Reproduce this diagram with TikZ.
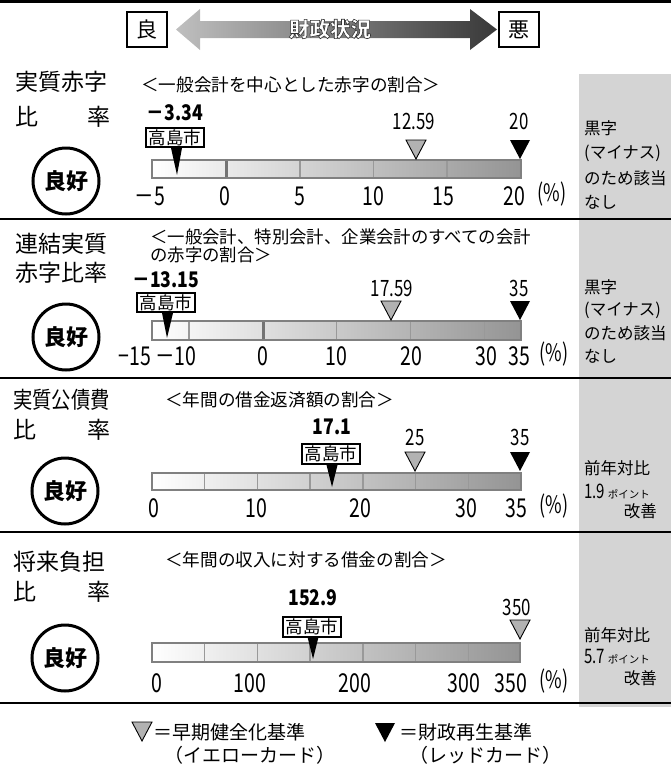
\documentclass[tikz,border=0pt]{standalone}
\usepackage{fontspec}
\usepackage{graphicx}
\setmainfont{Noto Sans CJK JP}
\newfontfamily\condf[FakeStretch=0.82]{Noto Sans CJK JP}
\newfontfamily\numf[FakeStretch=0.75]{Noto Sans CJK JP}
\newcommand\fsz[1]{\fontsize{#1}{#1}\selectfont}
\definecolor{panelgray}{HTML}{D4D4D4}
\tikzset{
  sepline/.style={line width=2.5pt,black},
  barframe/.style={draw=black!50,line width=2.5pt},
  divline/.style={draw=black!40,line width=1.3pt},
  zeroline/.style={draw=black!55,line width=3pt},
  title/.style={anchor=west,font=\fsz{23},inner sep=0pt},
  subt/.style={anchor=west,font=\fsz{17.6},inner sep=0pt},
  ticklab/.style={font=\numf\fsz{26},inner sep=0pt},
  pct/.style={font=\numf\fsz{24},inner sep=0pt},
  thr/.style={font=\numf\fsz{22.5},inner sep=0pt},
  val/.style={font=\condf\bfseries\fsz{21.5},inner sep=0pt},
  citybox/.style={draw,line width=1.8pt,fill=white,font=\fsz{17.5},inner xsep=2.5pt,inner ysep=1.5pt},
  panel/.style={anchor=west,font=\fsz{16.5},inner sep=0pt},
  good/.style={circle,draw,line width=3pt,minimum size=66pt,font=\bfseries\fsz{22},inner sep=0pt},
  legend/.style={anchor=west,font=\fsz{19},inner sep=0pt},
  hdrbox/.style={draw,line width=1.2pt,minimum width=40pt,minimum height=35pt,inner sep=0pt,font=\fsz{21}},
  ytri/.pic={\draw[line width=0.9pt,fill=black!30] (-10,0)--(10,0)--(0,19)--cycle;},
  btri/.pic={\fill[black] (-10,0)--(10,0)--(0,19)--cycle;}
}
\newcommand\outlined[1]{\special{pdf:bcolor [1 1 1] [0.2 0.2 0.2]}\special{pdf:literal direct 2 Tr 0.6 w}#1\special{pdf:literal direct 0 Tr 0.4 w}\special{pdf:ecolor}}
\begin{document}
\begin{tikzpicture}[x=1pt,y=-1pt]
\useasboundingbox (0,0) rectangle (671,766);
% gray panel
\fill[panelgray] (579,74) rectangle (671,707);
% lines
\draw[line width=3pt] (0,1.5) -- (671,1.5);
\draw[sepline] (0,219) -- (671,219);
\draw[sepline] (0,378) -- (671,378);
\draw[sepline] (0,532) -- (671,532);
\draw[sepline] (0,703) -- (671,703);
% header
\shade[left color=black!25,right color=black!78]
  (176,29.5) -- (200,9) -- (200,21) -- (470,21) -- (470,9) -- (497,29.5)
  -- (470,50) -- (470,38) -- (200,38) -- (200,50) -- cycle;
\node[font=\bfseries\fsz{20.5}] (zaisei) at (330,29) {\outlined{財政状況}};
\node[hdrbox] (good) at (147,29.5) {良};
\node[hdrbox] (bad) at (519,29.5) {悪};

% ---------- section 1
\node[title] (t1a) at (15,82) {実質赤字};
\node[title] (t1b) at (15,117) {\makebox[95pt]{比\hfill 率}};
\node[subt] (s1) at (141,85) {＜一般会計を中心とした赤字の割合＞};
\node[good] (g1) at (66,181) {良好};
\shade[left color=white,right color=black!42] (152,160) rectangle (521,178);
\foreach \x in {300,373.5,447} \draw[divline] (\x,160) -- (\x,178);
\draw[zeroline] (226,160) -- (226,178);
\draw[barframe] (152,160) rectangle (521,178);
\pic at (416,140) {ytri};
\pic at (520,140) {btri};
\node[thr] (n1a) at (414,121) {12.59};
\node[thr] (n1b) at (519,121) {20};
\node[val] (v1) at (175,113) {－3.34};
\fill (171,148) -- (182,148) -- (177,175) -- cycle;
\node[citybox] (c1) at (175,137.5) {高島市};
\node[ticklab] (k1a) at (150,196) {－5};
\node[ticklab] (k1b) at (225,196) {0};
\node[ticklab] (k1c) at (300,196) {5};
\node[ticklab] (k1d) at (373,196) {10};
\node[ticklab] (k1e) at (443,196) {15};
\node[ticklab] (k1f) at (514,196) {20};
\node[pct] (k1g) at (552,194) {(\%)};
\node[panel] (p1a) at (584,128) {黒字};
\node[panel] (p1b) at (584,153) {(マイナス)};
\node[panel] (p1c) at (584,178) {のため該当};
\node[panel] (p1d) at (584,202) {なし};

% ---------- section 2
\node[title] (t2a) at (15,244) {連結実質};
\node[title] (t2b) at (15,273) {赤字比率};
\node[subt,font=\fsz{17.4}] (s2a) at (150,237) {＜一般会計、特別会計、企業会計のすべての会計};
\node[subt,font=\fsz{17.4}] (s2b) at (150,255) {の赤字の割合＞};
\node[good] (g2) at (66,337) {良好};
\shade[left color=white,right color=black!42] (152,321) rectangle (521,340);
\foreach \x in {189,336.5,410.5,484.5} \draw[divline] (\x,321) -- (\x,340);
\draw[zeroline] (263,321) -- (263,340);
\draw[barframe] (152,321) rectangle (521,340);
\pic at (391,301) {ytri};
\pic at (520,301) {btri};
\node[thr] (n2a) at (392,288) {17.59};
\node[thr] (n2b) at (519,288) {35};
\node[val] (v2) at (166,280) {－13.15};
\fill (162,313) -- (173,313) -- (167,338) -- cycle;
\node[citybox] (c2) at (166,302.5) {高島市};
\node[ticklab] (k2a) at (135,356) {−15};
\node[ticklab] (k2b) at (176,356) {－10};
\node[ticklab] (k2c) at (263,356) {0};
\node[ticklab] (k2d) at (336,356) {10};
\node[ticklab] (k2e) at (411,356) {20};
\node[ticklab] (k2f) at (486,356) {30};
\node[ticklab] (k2g) at (519,356) {35};
\node[pct] (k2h) at (554,354) {(\%)};
\node[panel] (p2a) at (584,287) {黒字};
\node[panel] (p2b) at (584,310) {(マイナス)};
\node[panel] (p2c) at (584,333) {のため該当};
\node[panel] (p2d) at (584,356) {なし};

% ---------- section 3
\node[title] (t3a) at (13,400) {\scalebox{0.84}[1]{実質公債費}};
\node[title] (t3b) at (13,430) {\makebox[97pt]{比\hfill 率}};
\node[subt] (s3) at (165,400) {＜年間の借金返済額の割合＞};
\node[good] (g3) at (65,491) {良好};
\shade[left color=white,right color=black!42] (152,473) rectangle (521,490);
\foreach \x in {204.7,257.4,310.1,362.9,415.6,468.3} \draw[divline] (\x,473) -- (\x,490);
\draw[barframe] (152,473) rectangle (521,490);
\pic at (415,452) {ytri};
\pic at (520,452) {btri};
\node[thr] (n3a) at (415,437) {25};
\node[thr] (n3b) at (520,437) {35};
\node[val] (v3) at (332,427) {17.1};
\fill (326.5,465) -- (337.5,465) -- (332,487) -- cycle;
\node[citybox] (c3) at (331,454) {高島市};
\node[ticklab] (k3a) at (154,508) {0};
\node[ticklab] (k3b) at (256,508) {10};
\node[ticklab] (k3c) at (360,508) {20};
\node[ticklab] (k3d) at (466,508) {30};
\node[ticklab] (k3e) at (516,508) {35};
\node[pct] (k3f) at (554,506) {(\%)};
\node[panel] (p3a) at (584,468) {前年対比};
\node[panel] (p3b) at (584,491) {{\numf\fsz{20}1.9}\,{\fsz{10.5}ポイント}};
\node[panel,anchor=east] (p3c) at (657,511) {改善};

% ---------- section 4
\node[title] (t4a) at (13,562) {将来負担};
\node[title] (t4b) at (13,592) {\makebox[97pt]{比\hfill 率}};
\node[subt] (s4) at (165,560) {＜年間の収入に対する借金の割合＞};
\node[good] (g4) at (65,658) {良好};
\shade[left color=white,right color=black!42] (152,643) rectangle (520,662);
\foreach \x in {204.7,257.4,310.1,362.9,415.6,468.3} \draw[divline] (\x,643) -- (\x,662);
\draw[barframe] (152,643) rectangle (520,662);
\pic at (520,620) {ytri};
\node[thr] (n4a) at (517,607) {350};
\node[val] (v4) at (313,598) {152.9};
\fill (307.5,637) -- (318.5,637) -- (313,659) -- cycle;
\node[citybox] (c4) at (312,627) {高島市};
\node[ticklab] (k4a) at (157,683) {0};
\node[ticklab] (k4b) at (250,683) {100};
\node[ticklab] (k4c) at (355,683) {200};
\node[ticklab] (k4d) at (464,683) {300};
\node[ticklab] (k4e) at (511,683) {350};
\node[pct] (k4f) at (554,681) {(\%)};
\node[panel] (p4a) at (584,635) {前年対比};
\node[panel] (p4b) at (584,657) {{\numf\fsz{20}5.7}\,{\fsz{10.5}ポイント}};
\node[panel,anchor=east] (p4c) at (657,678) {改善};

% ---------- legend
\pic at (142,722) {ytri};
\node[legend] (l1) at (153,732) {＝早期健全化基準};
\node[legend] (l2) at (164,755) {（イエローカード）};
\pic at (385,723) {btri};
\node[legend] (l3) at (399,732) {＝財政再生基準};
\node[legend] (l4) at (409,755) {（レッドカード）};
\end{tikzpicture}
\end{document}
